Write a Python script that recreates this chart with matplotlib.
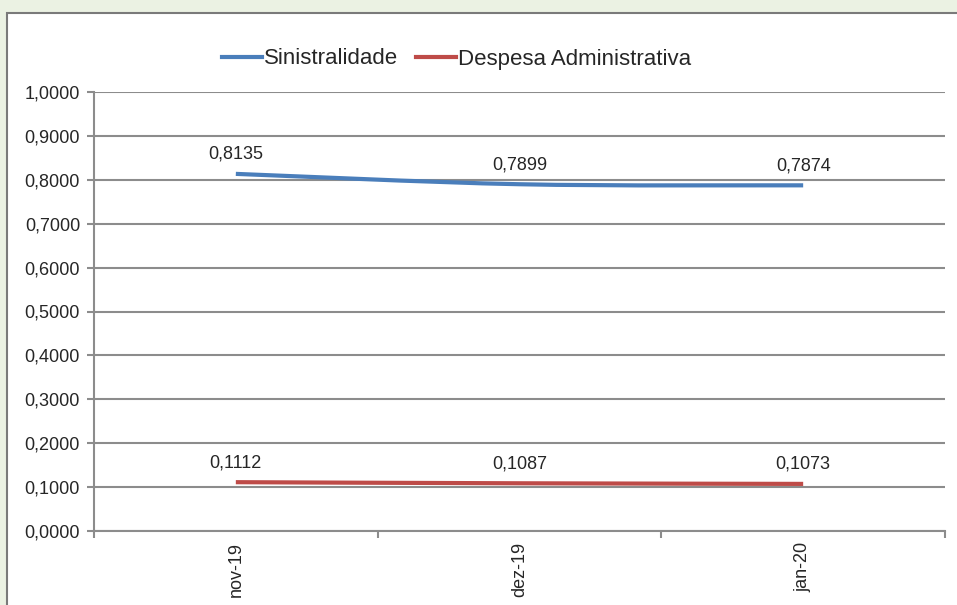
import numpy as np
from matplotlib import pyplot as plt
from matplotlib.path import Path
from matplotlib.patches import PathPatch, Rectangle
from matplotlib.lines import Line2D

plt.rc('font', family='Liberation Sans')

meses = ['nov-19', 'dez-19', 'jan-20']
sinistralidade = [0.8135, 0.7899, 0.7874]
despesa = [0.1112, 0.1087, 0.1073]
yticks = [0.0, 0.1, 0.2, 0.3, 0.4, 0.5, 0.6, 0.7, 0.8, 0.9, 1.0]

azul = '#4a7ebb'
vermelho = '#be4b48'
cinza = '#8c8c8c'
texto = '#262626'


def smooth_path(xs, ys):
    # bezier "suavizado" estilo excel (catmull-rom)
    pts = list(zip(xs, ys))
    verts = [pts[0]]
    codes = [Path.MOVETO]
    for i in range(len(pts) - 1):
        p0 = pts[i - 1] if i > 0 else pts[i]
        p1 = pts[i]
        p2 = pts[i + 1]
        p3 = pts[i + 2] if i + 2 < len(pts) else pts[i + 1]
        c1 = (p1[0] + (p2[0] - p0[0]) / 6, p1[1] + (p2[1] - p0[1]) / 6)
        c2 = (p2[0] - (p3[0] - p1[0]) / 6, p2[1] - (p3[1] - p1[1]) / 6)
        verts += [c1, c2, p2]
        codes += [Path.CURVE4] * 3
    return Path(verts, codes)


fig = plt.figure(figsize=(9.57, 6.05), dpi=100, facecolor='#ebf2e3')
fig.patches.append(Rectangle((7 / 957, -0.05), 1.05, 1.05 - 13 / 605,
                             transform=fig.transFigure, facecolor='white',
                             edgecolor='#7a7a7a', linewidth=1.5, zorder=-10))

ax = fig.add_axes([94 / 957, 1 - 531 / 605, 851 / 957, 439 / 605])
ax.set_facecolor('none')

x = np.arange(len(meses)) + 0.5
for serie, cor in [(sinistralidade, azul), (despesa, vermelho)]:
    ax.add_patch(PathPatch(smooth_path(x, serie), facecolor='none',
                           edgecolor=cor, linewidth=3, capstyle='butt', zorder=3))
    for xi, v in zip(x, serie):
        ax.annotate('{:.4f}'.format(v).replace('.', ','), (xi, v),
                    xytext=(0, 14), textcoords='offset points',
                    ha='center', va='center', fontsize=13, color=texto)

ax.set_xlim(0, 3)
ax.set_ylim(0, 1)
ax.set_yticks(yticks)
ax.set_yticklabels(['{:.4f}'.format(t).replace('.', ',') for t in yticks],
                   fontsize=13, color=texto)
ax.set_xticks([0, 1, 2, 3])
ax.set_xticklabels([])
ax.set_xticks(x, minor=True)
ax.set_xticklabels(meses, minor=True, rotation=90, fontsize=13, color=texto)
ax.tick_params(axis='x', which='minor', length=0, pad=8)
ax.tick_params(axis='y', which='major', pad=5)
ax.tick_params(axis='both', which='major', length=5, width=1.5, color=cinza)
ax.grid(axis='y', color=cinza, linewidth=1.5)
ax.set_axisbelow(True)
for s in ['top', 'right']:
    ax.spines[s].set_visible(False)
for s in ['left', 'bottom']:
    ax.spines[s].set_color(cinza)
    ax.spines[s].set_linewidth(1.5)

handles = [Line2D([], [], color=azul, lw=3), Line2D([], [], color=vermelho, lw=3)]
fig.legend(handles, ['Sinistralidade', 'Despesa Administrativa'], loc='center',
           bbox_to_anchor=(0.477, 1 - 59 / 605), ncol=2, frameon=False,
           fontsize=16, handlelength=1.8, handletextpad=0.1, columnspacing=0.8,
           labelcolor=texto)

plt.savefig('out.png', dpi=100, facecolor=fig.get_facecolor())
